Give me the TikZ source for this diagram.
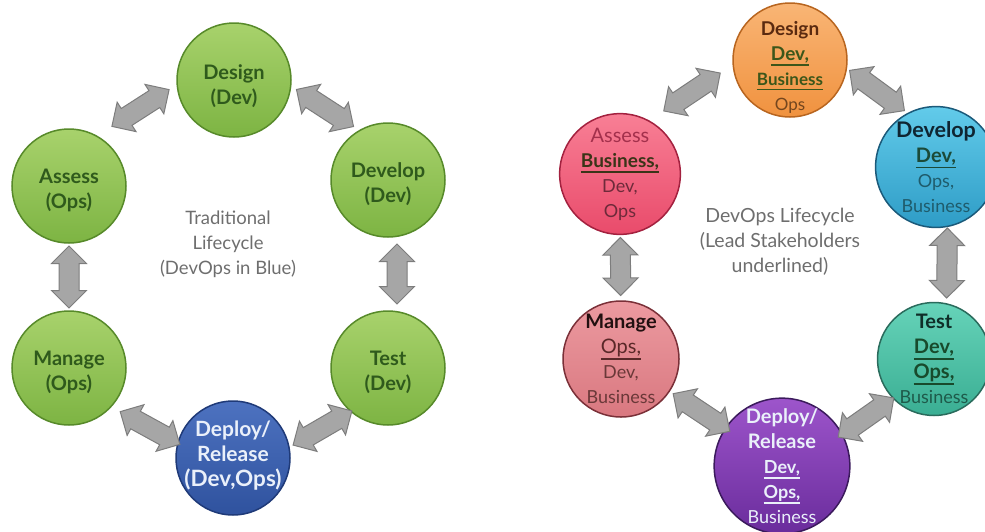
\documentclass[tikz,border=0pt]{standalone}
\usepackage{fontspec}
\setmainfont{Lato}
\usetikzlibrary{shapes.arrows,calc}

% palette
\definecolor{greenTop}{HTML}{A8D26C}
\definecolor{greenBot}{HTML}{7DB443}
\definecolor{greenEdge}{HTML}{578A2A}
\definecolor{greenText}{HTML}{2F5A1C}
\definecolor{blueTop}{HTML}{4D72C0}
\definecolor{blueBot}{HTML}{2F529E}
\definecolor{blueEdge}{HTML}{1F3A78}
\definecolor{paleText}{HTML}{EAF0FA}
\definecolor{orangeTop}{HTML}{F9B575}
\definecolor{orangeBot}{HTML}{F0923F}
\definecolor{orangeEdge}{HTML}{B8651F}
\definecolor{cyanTop}{HTML}{62CBEA}
\definecolor{cyanBot}{HTML}{2E9CC6}
\definecolor{cyanEdge}{HTML}{1B5A7A}
\definecolor{tealTop}{HTML}{66D3B9}
\definecolor{tealBot}{HTML}{3AAE93}
\definecolor{tealEdge}{HTML}{2A6B5C}
\definecolor{purpleTop}{HTML}{9D55CB}
\definecolor{purpleBot}{HTML}{6A2C9C}
\definecolor{purpleEdge}{HTML}{3B1A5C}
\definecolor{roseTop}{HTML}{EC9AA0}
\definecolor{roseBot}{HTML}{D97880}
\definecolor{roseEdge}{HTML}{7A3038}
\definecolor{pinkTop}{HTML}{F87F95}
\definecolor{pinkBot}{HTML}{E94B6B}
\definecolor{pinkEdge}{HTML}{A3213F}
\definecolor{arrowOut}{HTML}{A6A6A6}
\definecolor{arrowMid}{HTML}{DADADA}
\definecolor{arrowEdge}{HTML}{7D7D7D}
\definecolor{caption}{HTML}{6E6E6E}
% text colours
\definecolor{brownDark}{HTML}{5A2A10}
\definecolor{olive}{HTML}{3C561A}
\definecolor{brownSoft}{HTML}{74461E}
\definecolor{inkBlue}{HTML}{0F2532}
\definecolor{greenLead}{HTML}{1B4A38}
\definecolor{tealSoft}{HTML}{1F5C6C}
\definecolor{inkTeal}{HTML}{0F2E28}
\definecolor{greenLeadT}{HTML}{184A2C}
\definecolor{tealSoftT}{HTML}{1E5A4A}
\definecolor{inkRose}{HTML}{221010}
\definecolor{roseLead}{HTML}{5A2828}
\definecolor{roseSoft}{HTML}{6A3838}
\definecolor{pinkHead}{HTML}{A3304C}
\definecolor{pinkLead}{HTML}{3A3418}
\definecolor{pinkSoft}{HTML}{6E2A3A}

% font size with a fixed 25pt line pitch
\newcommand\sz[1]{\fontsize{#1}{25}\selectfont}
% underlined lead stakeholder
\newsavebox\leadbox
\newcommand\lead[1]{\sbox\leadbox{#1}\rlap{\rule[-0.3em]{\wd\leadbox}{0.085em}}\usebox\leadbox}

\tikzset{
  stage/.style={circle, minimum size=#1, inner sep=0pt, line width=1.5pt,
    align=center, font=\bfseries\sz{20}},
  stage/.default=114pt,
  greenstage/.style={stage, draw=greenEdge, top color=greenTop, bottom color=greenBot},
  stagetext/.style={align=center, font=\bfseries\sz{20}, yshift=-4pt},
  greentext/.style={stagetext, text=greenText},
  dblarr/.style={double arrow, draw=arrowEdge, line width=1pt,
    top color=arrowOut, middle color=arrowMid, bottom color=arrowOut,
    inner xsep=0pt, inner ysep=9.5pt, minimum width=34pt,
    double arrow head extend=7.5pt, double arrow tip angle=90,
    minimum height=#1},
  dblarr/.default=68pt,
  captiontext/.style={align=center, text=caption}
}

% double block arrow between two stages, shifted by (dx,dy) from the midpoint
\newcommand\linkarrow[5][68pt]{%
  \path let \p1=(#2.center), \p2=(#3.center), \n1={atan2(\y2-\y1,\x2-\x1)} in
    node[dblarr=#1, rotate=\n1] at ($(#2.center)!0.5!(#3.center)+(#4,#5)$) {};}

\begin{document}
\begin{tikzpicture}[x=1pt,y=-1pt]
\useasboundingbox (0,0) rectangle (985,531);

% ---------------- traditional lifecycle ----------------
\node[greenstage, label={[greentext, yshift=-2pt]center:Design\\(Dev)}]  (tDesign)  at (234,80)  {};
\node[greenstage, label={[greentext]center:Develop\\(Dev)}] (tDevelop) at (388,180) {};
\node[greenstage, label={[greentext]center:Test\\(Dev)}]    (tTest)    at (388,368) {};
\node[stage, draw=blueEdge, top color=blueTop, bottom color=blueBot,
      label={[stagetext, yshift=6pt, text=paleText]center:\sz{21}Deploy/\\\sz{21}Release\\\sz{22.5}(Dev,Ops)}]
                                                            (tDeploy)  at (233,458) {};
\node[greenstage, label={[greentext]center:Manage\\(Ops)}]  (tManage)  at (69,368)  {};
\node[greenstage, label={[greentext]center:Assess\\(Ops)}]  (tAssess)  at (69,186)  {};

\node[captiontext, font=\sz{18.5}] (tCaption) at (228,244) {Traditional\\Lifecycle\\(DevOps in Blue)};

\linkarrow{tAssess}{tDesign}{-11}{-25}
\linkarrow{tDesign}{tDevelop}{14}{-22}
\linkarrow[62pt]{tAssess}{tManage}{0}{0}
\linkarrow[60pt]{tDevelop}{tTest}{9}{0}
\linkarrow{tManage}{tDeploy}{-1}{15}
\linkarrow{tTest}{tDeploy}{12}{15}

% ---------------- devops lifecycle ----------------
\node[stage, draw=orangeEdge, top color=orangeTop, bottom color=orangeBot,
      label={[yshift=-7pt, align=center, font=\bfseries\sz{19}]center:
        \sz{19}\color{brownDark}Design\\
        \sz{19}\color{olive}\lead{Dev,}\\
        \sz{17}\color{olive}\lead{Business}\\
        \mdseries\sz{17}\color{brownSoft}Ops}]
  (dDesign) at (790,60) {};
\node[stage, draw=cyanEdge, top color=cyanTop, bottom color=cyanBot]
  (dDevelop) at (936,167)
  {\sz{21.5}\color{inkBlue}Develop\\
   \sz{20}\color{greenLead}\lead{Dev,}\\
   \mdseries\sz{18}\color{tealSoft}Ops,\\
   \mdseries\sz{18}\color{tealSoft}Business};
\node[stage=110pt, draw=tealEdge, top color=tealTop, bottom color=tealBot]
  (dTest) at (934,359)
  {\color{inkTeal}Test\\
   \color{greenLeadT}\lead{Dev,}\\
   \color{greenLeadT}\lead{Ops,}\\
   \mdseries\sz{18}\color{tealSoftT}Business};
\node[stage=128pt, draw=purpleEdge, top color=purpleTop, bottom color=purpleBot, text=paleText]
  (dDeploy) at (782,466)
  {Deploy/\\Release\\
   \sz{18}\lead{Dev,}\\
   \sz{18}\lead{Ops,}\\
   \mdseries\sz{18}Business};
\node[stage=116pt, draw=roseEdge, top color=roseTop, bottom color=roseBot]
  (dManage) at (621,359)
  {\color{inkRose}Manage\\
   \mdseries\color{roseLead}\lead{Ops,}\\
   \mdseries\sz{18}\color{roseSoft}Dev,\\
   \mdseries\sz{18}\color{roseSoft}Business};
\node[stage=116pt, draw=pinkEdge, top color=pinkTop, bottom color=pinkBot]
  (dAssess) at (620,174)
  {\mdseries\color{pinkHead}Assess\\
   \sz{19}\color{pinkLead}\lead{Business,}\\
   \mdseries\sz{18}\color{pinkSoft}Dev,\\
   \mdseries\sz{18}\color{pinkSoft}Ops};

\node[captiontext, font=\sz{19.5}] (dCaption) at (780,242) {DevOps Lifecycle\\(Lead Stakeholders\\underlined)};

\linkarrow{dAssess}{dDesign}{-13}{-25}
\linkarrow{dDesign}{dDevelop}{14}{-23}
\linkarrow[58pt]{dAssess}{dManage}{0}{0}
\linkarrow[70pt]{dDevelop}{dTest}{12}{0}
\linkarrow{dManage}{dDeploy}{0}{0}
\linkarrow{dTest}{dDeploy}{8}{5}
\end{tikzpicture}
\end{document}
